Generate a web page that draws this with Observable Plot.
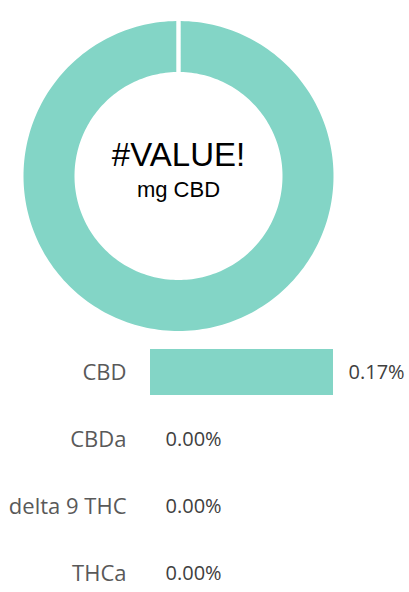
<!DOCTYPE html>
<html><head><meta charset="utf-8">
<script src="https://cdn.jsdelivr.net/npm/d3@7"></script>
<script src="https://cdn.jsdelivr.net/npm/@observablehq/plot@0.6"></script>
<style>html,body{margin:0;padding:0;background:#fff} #chart svg{display:block}</style>
</head><body><div id="chart"></div>
<script>
// ---- data ----
const donutLabels = ["CBD"];
const donutValues = [1];
const centerValue = "#VALUE!";
const centerUnit = "mg CBD";
const categories = ["CBD", "CBDa", "delta 9 THC", "THCa"];
const percents = [0.17, 0.00, 0.00, 0.00];
const teal = "#83d5c6";

// ---- donut ring geometry (built from donut values) ----
const inner = 0.671, gap = 0.0142;
const total = d3.sum(donutValues);
let acc = 0;
const ringPts = [];
donutValues.forEach((v, i) => {
  const a0 = acc / total * 2 * Math.PI, a1 = (acc + v) / total * 2 * Math.PI; acc += v;
  const n = 240;
  const o0 = a0 + Math.asin(gap), o1 = a1 - Math.asin(gap);
  for (let k = 0; k <= n; k++) { const a = o0 + (o1 - o0) * k / n; ringPts.push({slice: donutLabels[i], x: Math.sin(a), y: Math.cos(a)}); }
  const i0 = a0 + Math.asin(gap / inner), i1 = a1 - Math.asin(gap / inner);
  for (let k = n; k >= 0; k--) { const a = i0 + (i1 - i0) * k / n; ringPts.push({slice: donutLabels[i], x: inner * Math.sin(a), y: inner * Math.cos(a)}); }
});

const donut = Plot.plot({
  width: 409, height: 340, margin: 0,
  x: {domain: [-1, 1], range: [23, 333], axis: null},
  y: {domain: [-1, 1], range: [330.5, 20.5], axis: null},
  style: {background: "#fff"},
  marks: [
    Plot.line(ringPts, {x: "x", y: "y", z: "slice", fill: teal, stroke: "none", curve: "linear"}),
    Plot.text([{t: centerValue}], {x: () => 0, y: () => 0, text: "t", fontSize: 33, dy: -20.5,
      fontFamily: "'Liberation Sans', Arial, sans-serif", fill: "#000", textAnchor: "middle", lineAnchor: "middle"}),
    Plot.text([{t: centerUnit}], {x: () => 0, y: () => 0, text: "t", fontSize: 22, dy: 14,
      fontFamily: "'Liberation Sans', Arial, sans-serif", fill: "#000", textAnchor: "middle", lineAnchor: "middle"})
  ]
});

// ---- bar chart ----
const rows = categories.map((c, i) => ({cat: c, v: percents[i]}));
const bars = Plot.plot({
  width: 409, height: 252, marginLeft: 150, marginRight: 76, marginTop: 0, marginBottom: 0,
  x: {domain: [0, 0.17], range: [150, 333], axis: null},
  y: {domain: categories, range: [-1.5, 266.5], paddingInner: 0.31, paddingOuter: 0.155, axis: null},
  style: {fontFamily: "'Open Sans', sans-serif", background: "#fff"},
  marks: [
    Plot.barX(rows, {x: "v", y: "cat", fill: teal}),
    Plot.text(rows, {x: () => 0, y: "cat", text: "cat", dx: -24, textAnchor: "end", fontSize: 22, fill: "#595959", lineAnchor: "middle"}),
    Plot.text(rows, {x: "v", y: "cat", text: d => d.v.toFixed(2) + "%", dx: 15, textAnchor: "start", fontSize: 20, fill: "#404040", lineAnchor: "middle"})
  ]
});

const el = document.getElementById("chart");
el.appendChild(donut);
el.appendChild(bars);
</script>
</body></html>
